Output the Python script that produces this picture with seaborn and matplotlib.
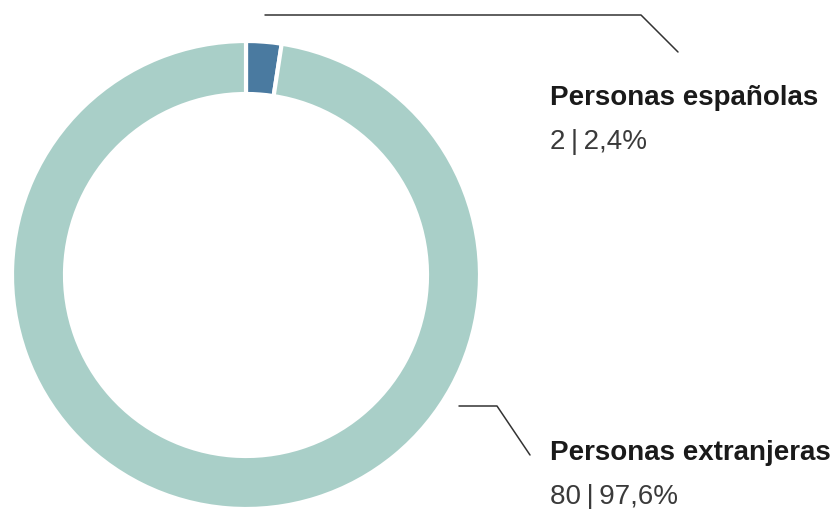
import matplotlib
matplotlib.use("Agg")
import matplotlib.pyplot as plt
import seaborn as sns

sns.set_theme(style="white")
plt.rcParams['font.family'] = ['Liberation Sans', 'DejaVu Sans']

# datos
categorias = ["Personas españolas", "Personas extranjeras"]
valores = [2, 80]
porcentajes = ["2,4%", "97,6%"]
colores = ["#4a7aa0", "#a9cfc8"]

W, H = 836, 509
fig = plt.figure(figsize=(W / 100, H / 100), dpi=100)
ax = fig.add_axes([0, 0, 1, 1])
ax.set_xlim(0, W)
ax.set_ylim(0, H)
ax.set_aspect('equal')
ax.axis('off')

# donut
ax.pie(valores, colors=colores, startangle=90, counterclock=False,
       center=(246, H - 275), radius=234,
       wedgeprops=dict(width=53, edgecolor='white', linewidth=3))
ax.set_xlim(0, W)
ax.set_ylim(0, H)

# líneas guía
ax.plot([265, 641, 678], [H - 15, H - 15, H - 52], color='#333333', lw=1.1)
ax.plot([459, 497, 530], [H - 406, H - 406, H - 455], color='#333333', lw=1.1)

# etiquetas
posiciones = [(550, 105), (550, 460)]
for cat, val, pct, (x, y) in zip(categorias, valores, porcentajes, posiciones):
    ax.text(x, H - y, cat, fontsize=20, fontweight='bold', color='#1a1a1a',
            ha='left', va='baseline')
    ax.text(x, H - y - 44, f"{val}\u2009|\u2009{pct}", fontsize=20, color='#3a3a3a',
            ha='left', va='baseline')

plt.savefig('out.png', dpi=100)
plt.close()
